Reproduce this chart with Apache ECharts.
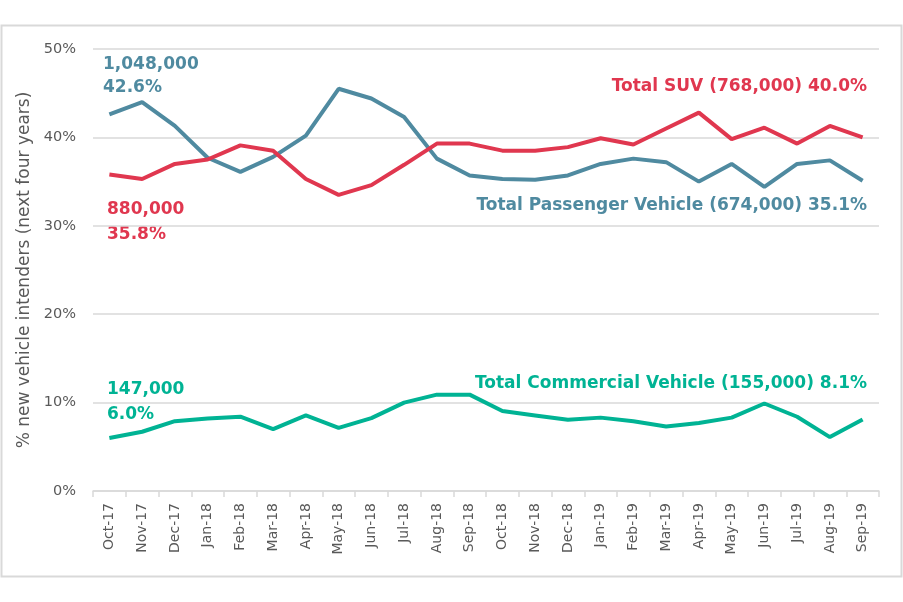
<!DOCTYPE html>
<html>
<head>
<meta charset="utf-8">
<script src="https://cdn.jsdelivr.net/npm/echarts@6/dist/echarts.min.js"></script>
<style>
  html, body { margin: 0; padding: 0; background: #fff; }
  #main { width: 903px; height: 602px; }
</style>
</head>
<body>
<div id="main"></div>
<script>
// months on the x axis
var months = ['Oct-17','Nov-17','Dec-17','Jan-18','Feb-18','Mar-18','Apr-18','May-18','Jun-18','Jul-18','Aug-18','Sep-18',
              'Oct-18','Nov-18','Dec-18','Jan-19','Feb-19','Mar-19','Apr-19','May-19','Jun-19','Jul-19','Aug-19','Sep-19'];

// % new vehicle intenders
var passenger  = [42.6, 44.0, 41.3, 37.7, 36.1, 37.8, 40.2, 45.5, 44.4, 42.3, 37.6, 35.7,
                  35.3, 35.2, 35.7, 37.0, 37.6, 37.2, 35.0, 37.0, 34.4, 37.0, 37.4, 35.1];
var suv        = [35.8, 35.3, 37.0, 37.5, 39.1, 38.5, 35.3, 33.5, 34.6, 36.9, 39.3, 39.3,
                  38.5, 38.5, 38.9, 39.9, 39.2, 41.0, 42.8, 39.8, 41.1, 39.3, 41.3, 40.0];
var commercial = [6.0, 6.7, 7.9, 8.2, 8.4, 7.0, 8.55, 7.15, 8.25, 10.0, 10.9, 10.9,
                  9.05, 8.55, 8.05, 8.3, 7.9, 7.3, 7.7, 8.3, 9.9, 8.4, 6.1, 8.1];

var yTicks = [0, 10, 20, 30, 40, 50];

// annotation texts
var passengerStart = ['1,048,000', '42.6%'];
var suvStart       = ['880,000', '35.8%'];
var commStart      = ['147,000', '6.0%'];
var passengerEnd   = 'Total Passenger Vehicle (674,000) 35.1%';
var suvEnd         = 'Total SUV (768,000) 40.0%';
var commEnd        = 'Total Commercial Vehicle (155,000) 8.1%';

var cBlue = '#4f8aa0', cRed = '#e0374f', cGreen = '#00b394';
var axisFont = "'DejaVu Sans', sans-serif";
var gray = '#595959';

function note(x, y, text, color, align) {
    return {
        type: 'text', left: null, x: x, y: y, silent: true,
        style: {
            text: text, fill: color, textAlign: align || 'left', textVerticalAlign: 'middle',
            font: 'bold 17px ' + axisFont
        }
    };
}

var myChart = echarts.init(document.getElementById('main'));
var option = {
    backgroundColor: '#fff',
    animation: false,
    grid: { left: 93, right: 24, top: 49, bottom: 111 },
    xAxis: {
        type: 'category',
        data: months,
        boundaryGap: true,
        axisLine: { lineStyle: { color: '#d9d9d9', width: 1.5 } },
        axisTick: { show: true, length: 6, lineStyle: { color: '#d9d9d9', width: 1.5 } },
        axisLabel: { rotate: 90, margin: 12, color: gray, fontSize: 14, fontFamily: axisFont, interval: 0 }
    },
    yAxis: {
        type: 'value',
        min: yTicks[0], max: yTicks[yTicks.length - 1], interval: 10,
        name: '% new vehicle intenders (next four years)',
        nameLocation: 'middle',
        nameGap: 57,
        nameTextStyle: { color: gray, fontSize: 17, fontFamily: axisFont },
        axisLine: { show: false },
        axisTick: { show: false },
        axisLabel: { formatter: '{value}%', margin: 17, color: gray, fontSize: 14.5, fontFamily: axisFont },
        splitLine: { lineStyle: { color: '#d9d9d9', width: 1.5 } }
    },
    series: [
        { name: 'Total Commercial Vehicle', type: 'line', data: commercial, showSymbol: false,
          lineStyle: { color: cGreen, width: 4 }, itemStyle: { color: cGreen } },
        { name: 'Total Passenger Vehicle', type: 'line', data: passenger, showSymbol: false,
          lineStyle: { color: cBlue, width: 4 }, itemStyle: { color: cBlue } },
        { name: 'Total SUV', type: 'line', data: suv, showSymbol: false,
          lineStyle: { color: cRed, width: 4 }, itemStyle: { color: cRed } }
    ],
    graphic: [
        { type: 'rect', silent: true, shape: { x: 1.5, y: 25.5, width: 900, height: 551 },
          style: { fill: 'none', stroke: '#d9d9d9', lineWidth: 2 } },
        note(103, 65, passengerStart[0], cBlue),
        note(103, 88, passengerStart[1], cBlue),
        note(107, 210, suvStart[0], cRed),
        note(107, 235, suvStart[1], cRed),
        note(107, 390, commStart[0], cGreen),
        note(107, 415, commStart[1], cGreen),
        note(867, 87, suvEnd, cRed, 'right'),
        note(867, 206, passengerEnd, cBlue, 'right'),
        note(867, 384, commEnd, cGreen, 'right')
    ]
};
myChart.setOption(option);
</script>
</body>
</html>
